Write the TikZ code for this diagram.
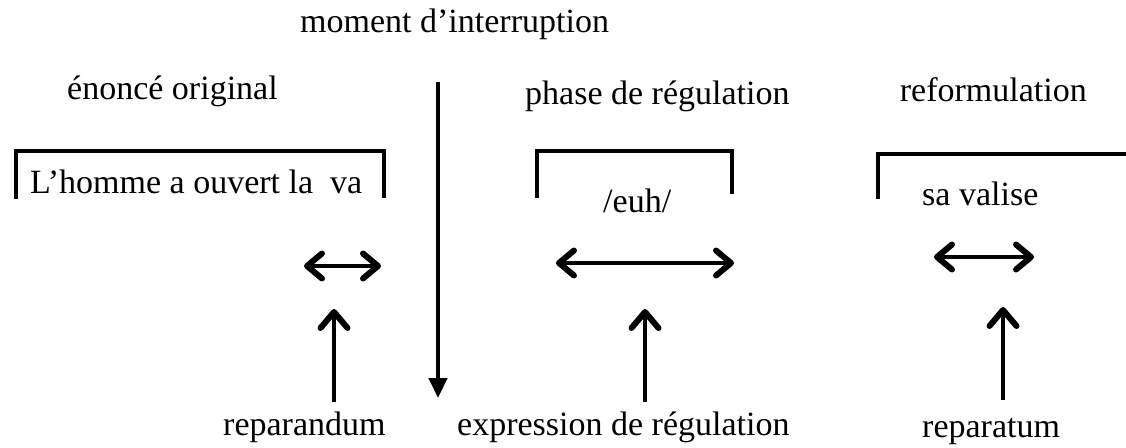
\documentclass[tikz,border=0pt]{standalone}
\usepackage{fontspec}
\setmainfont{Liberation Serif}
\usetikzlibrary{arrows.meta}
\begin{document}
\begin{tikzpicture}[x=1pt,y=-1pt,
  lbl/.style={inner sep=0pt,font=\fontsize{34}{40}\selectfont},
  brk/.style={line width=4.5pt,line cap=butt,line join=miter},
  tipd/.tip={Straight Barb[length=15pt,width=25pt,line width=0pt 1.5,round]},
  dbl/.style={line width=4pt,tipd-tipd},
  upar/.style={line width=4pt,-{Straight Barb[length=16pt,width=27pt,line width=0pt 1.5,round]}},
  dnar/.style={line width=4.5pt,-{Triangle[length=20pt,width=18pt]}}]
\useasboundingbox (0,0) rectangle (1126,447);
\fill[white] (0,0) rectangle (1126,447);

% headings
\node[lbl,anchor=base west] (title) at (300,32) {moment d’interruption};
\node[lbl,anchor=base west] (h1) at (67,99) {énoncé original};
\node[lbl,anchor=base west] (h2) at (525,104) {phase de régulation};
\node[lbl,anchor=base east] (h3) at (1087,101) {reformulation};

% bracket texts
\node[lbl,anchor=base west] (t1) at (30,193) {L’homme a ouvert la\ \ va};
\node[lbl,anchor=base west] (t2) at (603,212) {/euh/};
\node[lbl,anchor=base west] (t3) at (922,205) {sa valise};

% bottom labels
\node[lbl,anchor=base west] (b1) at (223,435) {reparandum};
\node[lbl,anchor=base west] (b2) at (457,435) {expression de régulation};
\node[lbl,anchor=base west] (b3) at (922,437) {reparatum};

% brackets
\coordinate (k1a) at (16,199); \coordinate (k1b) at (200,151); \coordinate (k1c) at (384,198);
\draw[brk] (k1a) |- (k1b) -| (k1c);
\coordinate (k2a) at (537,198); \coordinate (k2b) at (630,151); \coordinate (k2c) at (732,194);
\draw[brk] (k2a) |- (k2b) -| (k2c);
\coordinate (k3a) at (878,199); \coordinate (k3b) at (1127,154);
\draw[brk] (k3a) |- (k3b);

% interruption arrow
\coordinate (d1) at (438,82); \coordinate (d2) at (438,398);
\draw[dnar] (d1) -- (d2);

% double arrows
\coordinate (l1) at (304,266); \coordinate (l2) at (381,266);
\draw[dbl] (l1) -- (l2);
\coordinate (m1) at (556,263); \coordinate (m2) at (734,263);
\draw[dbl] (m1) -- (m2);
\coordinate (r1) at (934,257); \coordinate (r2) at (1034,257);
\draw[dbl] (r1) -- (r2);

% up arrows
\coordinate (u1a) at (334,402); \coordinate (u1b) at (334,309);
\draw[upar] (u1a) -- (u1b);
\coordinate (u2a) at (645,402); \coordinate (u2b) at (645,309);
\draw[upar] (u2a) -- (u2b);
\coordinate (u3a) at (1003,400); \coordinate (u3b) at (1003,307);
\draw[upar] (u3a) -- (u3b);
\end{tikzpicture}
\end{document}
